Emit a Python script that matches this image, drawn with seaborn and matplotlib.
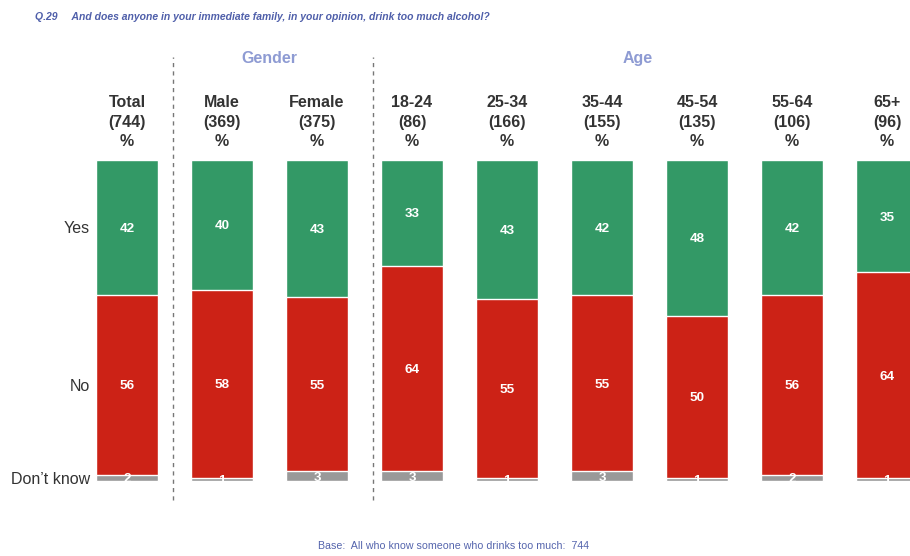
import numpy as np
import pandas as pd
import matplotlib
matplotlib.use("Agg")
import matplotlib.pyplot as plt
import seaborn as sns

# data
columns = ["Total\n(744)\n%", "Male\n(369)\n%", "Female\n(375)\n%", "18-24\n(86)\n%",
           "25-34\n(166)\n%", "35-44\n(155)\n%", "45-54\n(135)\n%", "55-64\n(106)\n%",
           "65+\n(96)\n%"]
yes = [42, 40, 43, 33, 43, 42, 48, 42, 35]
no = [56, 58, 55, 64, 55, 55, 50, 56, 64]
dont_know = [2, 1, 3, 3, 1, 3, 1, 2, 1]
row_labels = ["Yes", "No", "Don\u2019t know"]

green = "#339966"
red = "#CC2216"
grey = "#999999"

sns.set_style("white")
plt.rcParams["font.family"] = ["Liberation Sans", "DejaVu Sans"]

df = pd.DataFrame({"col": columns, "yes": yes, "no": no, "dk": dont_know})
tot = df["yes"] + df["no"] + df["dk"]
# bars fill the full height, so scale each column to 100
df["dk_s"] = df["dk"] / tot * 100
df["no_s"] = df["no"] / tot * 100
df["yes_s"] = df["yes"] / tot * 100
df["top_no"] = df["dk_s"] + df["no_s"]
df["top_yes"] = df["top_no"] + df["yes_s"]

fig = plt.figure(figsize=(9.1, 5.56), dpi=100)
ax = fig.add_axes([0, 0, 1, 1])

# overlapping bars, biggest first
w = 0.653
for col, c in [("top_yes", green), ("top_no", red), ("dk_s", grey)]:
    sns.barplot(data=df, x="col", y=col, order=columns, color=c, saturation=1,
                width=w, edgecolor="white", linewidth=1, errorbar=None, ax=ax)

# value labels in the middle of each piece
for i in range(len(df)):
    r = df.iloc[i]
    for val, mid in [(r["yes"], r["top_no"] + r["yes_s"] / 2),
                     (r["no"], r["dk_s"] + r["no_s"] / 2),
                     (r["dk"], r["dk_s"] / 2)]:
        ax.text(i, mid, str(val), ha="center", va="center_baseline", color="white",
                fontsize=9.7, fontweight="bold")
    ax.text(i, 111.8, columns[i], ha="center", va="center", color="#333333",
            fontsize=11.5, fontweight="bold", linespacing=1.37)

# row labels at the Total bar segments
t = df.iloc[0]
mids = [t["top_no"] + t["yes_s"] / 2, t["dk_s"] + t["no_s"] / 2, t["dk_s"] / 2]
for lab, m in zip(row_labels, mids):
    ax.text(-0.39, m, lab, ha="right", va="center_baseline", color="#333333", fontsize=11.5)

# group dividers and headers
for xd in [0.484, 2.589]:
    ax.plot([xd, xd], [-5.9, 132.1], color="#777777", lw=1, ls=(0, (3, 3)))
ax.text(1.495, 131.5, "Gender", ha="center", va="center", color="#8E9BD3",
        fontsize=11.5, fontweight="bold")
ax.text(5.38, 131.5, "Age", ha="center", va="center", color="#8E9BD3",
        fontsize=11.5, fontweight="bold")

ax.set_xlim(-1.3368, 8.242)
ax.set_ylim(-23.36, 149.84)
ax.axis("off")

fig.text(35 / 910, 1 - 17 / 556,
         "Q.29     And does anyone in your immediate family, in your opinion, drink too much alcohol?",
         ha="left", va="center", color="#4F5FAA", fontsize=7.5, fontweight="bold",
         fontstyle="italic")
fig.text(454 / 910, 1 - 546 / 556, "Base:  All who know someone who drinks too much:  744",
         ha="center", va="center", color="#5565AD", fontsize=7.7)

fig.savefig("out.png", dpi=100)
